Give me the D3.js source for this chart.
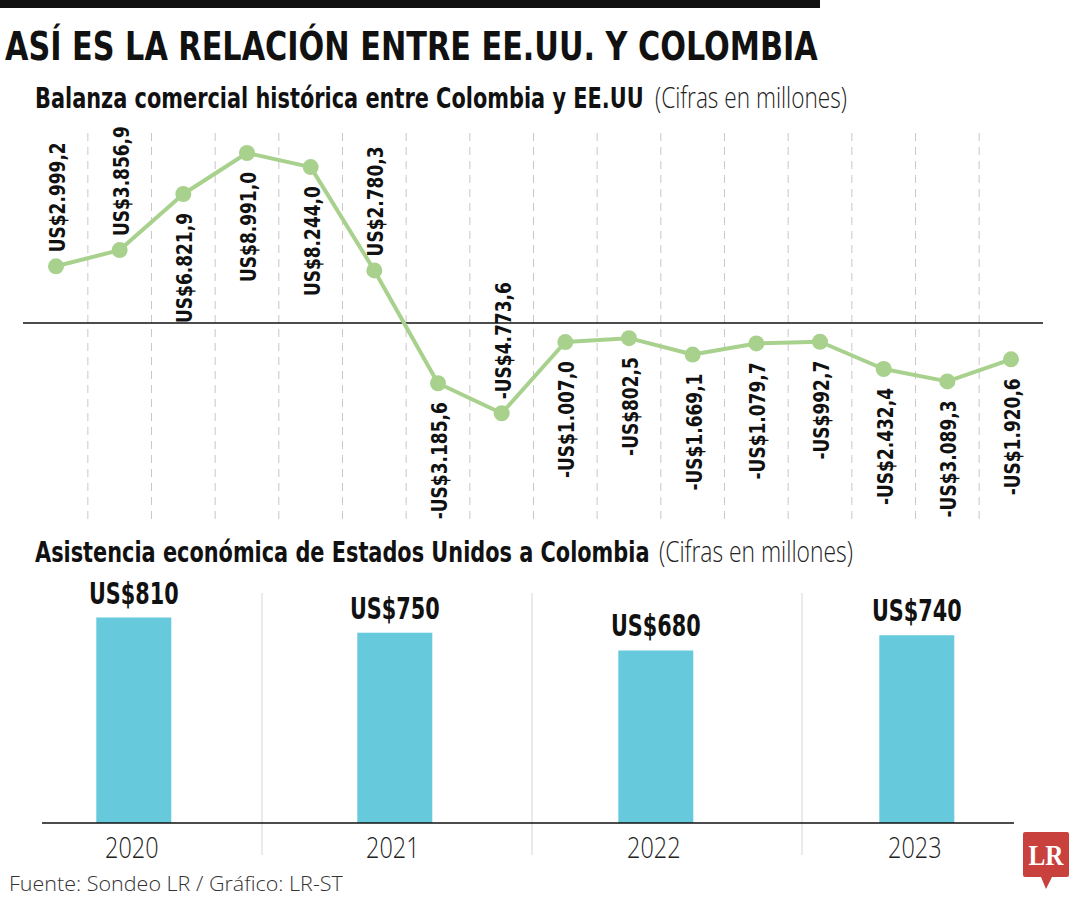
<!DOCTYPE html>
<html>
<head>
<meta charset="utf-8">
<script src="https://cdn.jsdelivr.net/npm/d3@7/dist/d3.min.js"></script>
<style>
  html, body { margin: 0; padding: 0; background: #fff; }
  svg { display: block; }
</style>
</head>
<body>
<svg id="chart" width="1080" height="900"></svg>
<script>
// ---------- DATA ----------
const title = "ASÍ ES LA RELACIÓN ENTRE EE.UU. Y COLOMBIA";
const lineTitle = "Balanza comercial histórica entre Colombia y EE.UU";
const barTitle = "Asistencia económica de Estados Unidos a Colombia";
const unitNote = "(Cifras en millones)";
const source = "Fuente: Sondeo LR / Gráfico: LR-ST";

// trade balance (millions of US$), 16 consecutive periods
const balanceValues = [2999.2, 3856.9, 6821.9, 8991.0, 8244.0, 2780.3, -3185.6, -4773.6,
                       -1007.0, -802.5, -1669.1, -1079.7, -992.7, -2432.4, -3089.3, -1920.6];
// label placement relative to the point
const balanceLabelSide = ["up", "up", "down", "down", "down", "up", "down", "up",
                          "down", "down", "down", "down", "down", "down", "down", "down"];

const aidYears = ["2020", "2021", "2022", "2023"];
const aidValues = [810, 750, 680, 740];

// ---------- HELPERS ----------
const fmt = v => {
  const s = Math.abs(v).toFixed(1).split(".");
  const intPart = s[0].replace(/\B(?=(\d{3})+(?!\d))/g, ".");
  return (v < 0 ? "-" : "") + "US$" + intPart + "," + s[1];
};

const svg = d3.select("#chart");
const BOLD = '"DejaVu Sans Condensed", "DejaVu Sans", sans-serif';
const LIGHT = '"Open Sans", "Roboto", "DejaVu Sans", sans-serif';

// place text at (x,y) and squeeze it horizontally to a given width
function fitText(x, y, str, opts) {
  const t = svg.append("text")
    .attr("font-family", opts.family).attr("font-weight", opts.weight)
    .attr("font-size", opts.size).attr("fill", opts.fill || "#111")
    .attr("text-anchor", opts.anchor || "start")
    .text(str);
  const w = t.node().getComputedTextLength();
  const k = opts.width ? opts.width / w : (opts.k || 1);
  t.attr("transform", `translate(${x},${y}) scale(${k},1)`);
  return t;
}

// top rule
svg.append("rect").attr("x", 0).attr("y", 0).attr("width", 820).attr("height", 8).attr("fill", "#111");

// title
fitText(5, 60, title, { family: BOLD, weight: "bold", size: 39, width: 813 });

fitText(35, 108, lineTitle, { family: BOLD, weight: "bold", size: 28, width: 609 });
fitText(655, 108, unitNote, { family: LIGHT, weight: 300, size: 29, width: 192, fill: "#222" });
fitText(35, 562, barTitle, { family: BOLD, weight: "bold", size: 28, width: 615 });
fitText(659, 562, unitNote, { family: LIGHT, weight: 300, size: 29, width: 194, fill: "#222" });

// ---------- LINE CHART ----------
const x = d3.scalePoint().domain(d3.range(balanceValues.length)).range([56, 1011]);
const y = d3.scaleLinear().domain([0, 8991]).range([323, 153]);

// dashed separators at midpoints
const mids = d3.range(balanceValues.length - 1).map(i => (x(i) + x(i + 1)) / 2);
svg.append("g").selectAll("line").data(mids).join("line")
  .attr("x1", d => d).attr("x2", d => d)
  .attr("y1", 133).attr("y2", 522)
  .attr("stroke", "#c8c8c8").attr("stroke-width", 1)
  .attr("stroke-dasharray", "8,6");

// zero line
svg.append("line").attr("x1", 23).attr("x2", 1043)
  .attr("y1", y(0)).attr("y2", y(0))
  .attr("stroke", "#111").attr("stroke-width", 1.3);

const lineGen = d3.line().x((d, i) => x(i)).y(d => y(d));
svg.append("path").datum(balanceValues)
  .attr("d", lineGen).attr("fill", "none")
  .attr("stroke", "#a9d18e").attr("stroke-width", 4).attr("stroke-linejoin", "round");

svg.append("g").selectAll("circle").data(balanceValues).join("circle")
  .attr("cx", (d, i) => x(i)).attr("cy", d => y(d)).attr("r", 8)
  .attr("fill", "#a9d18e");

// vertical labels
svg.append("g").selectAll("text").data(balanceValues).join("text")
  .attr("transform", (d, i) => {
    const up = balanceLabelSide[i] === "up";
    const yy = up ? y(d) - 14 : y(d) + 19;
    return `translate(${x(i) + 1},${yy}) rotate(-90) scale(0.86,1)`;
  })
  .attr("text-anchor", (d, i) => balanceLabelSide[i] === "up" ? "start" : "end")
  .attr("dy", "0.36em")
  .attr("font-family", BOLD).attr("font-weight", "bold").attr("font-size", 22)
  .attr("fill", "#111")
  .text(d => fmt(d));

// ---------- BAR CHART ----------
const xb = d3.scalePoint().domain(aidYears).range([3.3, 1047.3]).padding(0.5);
const yb = d3.scaleLinear().domain([0, 810]).range([823, 617.5]);
const barW = 75;

// light separators between years
const sep = d3.scaleLinear().domain([0, 1]).range([262, 532]);
svg.append("g").selectAll("line").data([0, 1, 2]).join("line")
  .attr("x1", d => sep(d)).attr("x2", d => sep(d))
  .attr("y1", 593).attr("y2", 855)
  .attr("stroke", "#dcdcdc").attr("stroke-width", 1.2);

svg.append("g").selectAll("rect").data(aidValues).join("rect")
  .attr("x", (d, i) => xb(aidYears[i]) - barW / 2)
  .attr("y", d => yb(d))
  .attr("width", barW)
  .attr("height", d => yb(0) - yb(d))
  .attr("fill", "#66c9dc");

svg.append("g").selectAll("text").data(aidValues).join("text")
  .attr("transform", (d, i) => `translate(${xb(aidYears[i])},${yb(d) - 14}) scale(0.77,1)`)
  .attr("text-anchor", "middle")
  .attr("font-family", BOLD).attr("font-weight", "bold").attr("font-size", 30)
  .attr("fill", "#111")
  .text(d => "US$" + d);

// baseline
svg.append("line").attr("x1", 42).attr("x2", 1014)
  .attr("y1", yb(0)).attr("y2", yb(0))
  .attr("stroke", "#111").attr("stroke-width", 1.5);

// year axis labels
svg.append("g").selectAll("text").data(aidYears).join("text")
  .attr("transform", d => `translate(${xb(d) - 2},858) scale(0.78,1)`)
  .attr("text-anchor", "middle")
  .attr("font-family", LIGHT).attr("font-weight", 300).attr("font-size", 30)
  .attr("fill", "#222")
  .text(d => d);

// footer
fitText(9, 891, source, { family: LIGHT, weight: 300, size: 21, width: 334, fill: "#333" });

// LR logo
const logo = svg.append("g");
logo.append("path")
  .attr("d", "M1025,832 H1067 Q1069,832 1069,834 V875 Q1069,877 1067,877 H1052 L1046,889 L1041,877 H1025 Q1023,877 1023,875 V834 Q1023,832 1025,832 Z")
  .attr("fill", "#c9413d");
logo.append("text").attr("x", 1046).attr("y", 865)
  .attr("text-anchor", "middle")
  .attr("font-family", '"Liberation Serif", "DejaVu Serif", serif').attr("font-weight", "bold")
  .attr("font-size", 30).attr("textLength", 35).attr("lengthAdjust", "spacingAndGlyphs")
  .attr("fill", "#fff").text("LR");
</script>
</body>
</html>
